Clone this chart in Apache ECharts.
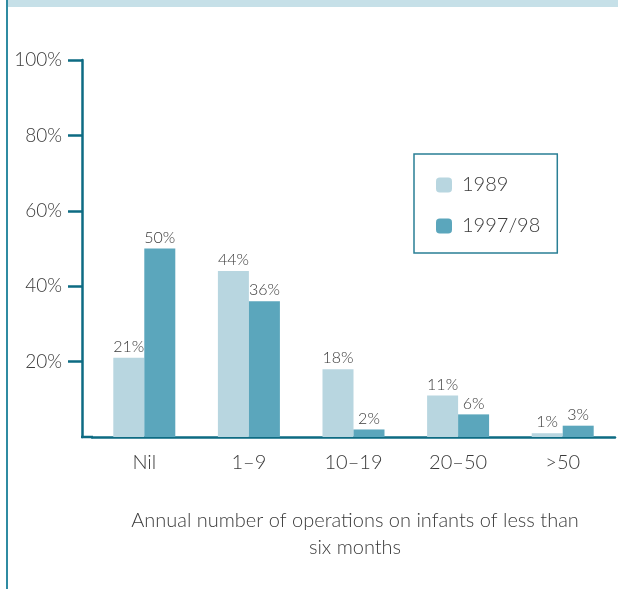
<!DOCTYPE html>
<html>
<head>
<meta charset="utf-8">
<script src="https://cdn.jsdelivr.net/npm/echarts@6/dist/echarts.min.js"></script>
<style>
  html, body { margin: 0; padding: 0; background: #fff; }
  #chart { width: 618px; height: 589px; }
</style>
</head>
<body>
<div id="chart"></div>
<script>
// data
const categories = ['Nil', '1–9', '10–19', '20–50', '>50'];
const values1989 = [21, 44, 18, 11, 1];
const values1997 = [50, 36, 2, 6, 3];
const yTicks = [20, 40, 60, 80, 100];

const axisColor = '#0d6b83';
const textColor = '#3b3b3b';
const font = 'Lato, "Open Sans", sans-serif';

const chart = echarts.init(document.getElementById('chart'));

const barLabel = {
  show: true,
  position: 'top',
  distance: 3,
  formatter: '{c}%',
  color: textColor,
  fontFamily: font,
  fontWeight: 300,
  fontSize: 16
};

chart.setOption({
  animation: false,
  title: {
    text: 'Annual number of operations on infants of less than\nsix months',
    left: 350,
    top: 502,
    textAlign: 'center',
    textStyle: {
      color: textColor,
      fontFamily: font,
      fontWeight: 300,
      fontSize: 20,
      lineHeight: 27
    }
  },
  legend: {
    orient: 'vertical',
    left: 414,
    top: 154,
    padding: [21, 17, 17, 22],
    borderColor: '#2a7f95',
    borderWidth: 1.5,
    itemWidth: 16,
    itemHeight: 15,
    itemGap: 21,
    textStyle: { color: textColor, fontFamily: font, fontWeight: 300, fontSize: 20, padding: [0, 0, 0, 5] },
    data: ['1989', '1997/98']
  },
  grid: { left: 92, right: 3, top: 60, bottom: 152 },
  xAxis: {
    type: 'category',
    data: categories,
    axisLine: { lineStyle: { color: axisColor, width: 2.5 } },
    axisTick: { show: false },
    axisLabel: { color: textColor, fontFamily: font, fontWeight: 300, fontSize: 20, margin: 16 }
  },
  yAxis: {
    type: 'value',
    min: 0,
    max: 100,
    offset: 10,
    splitLine: { show: false },
    axisLine: { show: true, lineStyle: { color: axisColor, width: 2.5 } },
    axisTick: { show: true, length: 14, customValues: yTicks, lineStyle: { color: axisColor, width: 2.5 } },
    axisLabel: {
      customValues: yTicks,
      formatter: '{value}%',
      color: textColor,
      fontFamily: font,
      fontWeight: 300,
      fontSize: 19,
      margin: 20
    }
  },
  series: [
    {
      name: '1989',
      type: 'bar',
      data: values1989,
      barWidth: 31,
      barGap: '0%',
      itemStyle: { color: '#b8d6e0' },
      label: barLabel
    },
    {
      name: '1997/98',
      type: 'bar',
      data: values1997,
      barWidth: 31,
      itemStyle: { color: '#5ba6bc' },
      label: barLabel
    }
  ],
  graphic: [
    // page decoration: top band and left rule
    { type: 'rect', shape: { x: 8, y: 0, width: 610, height: 7 }, style: { fill: '#c6e0e8' } },
    { type: 'rect', shape: { x: 6, y: 0, width: 2, height: 589 }, style: { fill: '#2f8ba2' } },
    // join the offset y axis to the x axis line
    { type: 'line', shape: { x1: 81, y1: 437, x2: 93, y2: 437 }, style: { stroke: axisColor, lineWidth: 2.5 } }
  ]
});
</script>
</body>
</html>
